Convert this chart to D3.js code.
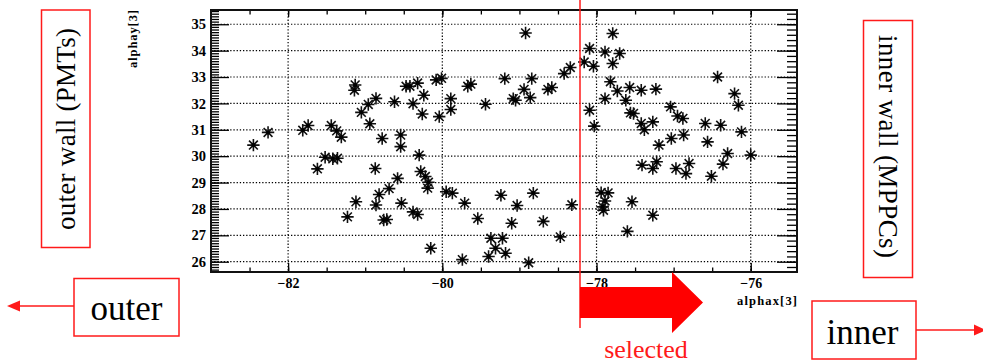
<!DOCTYPE html>
<html><head><meta charset="utf-8">
<script src="https://cdn.jsdelivr.net/npm/d3@7"></script>
<style>body{margin:0;background:#fff;} svg{display:block;}</style>
</head><body>
<svg id="c" width="983" height="363"></svg>
<script>
// alphax[3] values
const alphaX = [
 -82.45,-82.26,-81.81,-81.74,-81.44,-81.37,-81.31,-81.62,-81.52,-81.42,-81.36,-81.13,-81.14,-81.05,-81.12,-81.23,
 -80.96,-80.86,-80.94,-80.78,-80.54,-80.54,-80.62,-80.47,-80.42,-80.32,-80.24,-80.38,-80.26,-80.08,-80.01,-80.04,
 -79.89,-79.89,-79.67,-79.63,-79.44,-79.19,-80.30,-80.87,-80.58,-80.69,-80.82,-80.86,-80.72,-80.76,-80.53,-80.38,
 -80.32,-80.28,-80.22,-80.18,-80.19,-80.15,-79.95,-79.87,-79.71,-79.54,-79.24,-79.74,-79.37,-79.31,-79.40,-79.22,
 -78.92,-79.08,-79.05,-78.94,-78.84,-78.86,-78.63,-78.58,-78.42,-78.34,-78.16,-78.09,-78.04,-77.89,-77.79,-77.70,
 -77.79,-77.82,-77.89,-77.73,-77.57,-77.42,-77.62,-77.56,-77.52,-77.42,-77.38,-78.09,-78.03,-77.41,-79.03,-78.82,
 -78.32,-79.10,-78.69,-78.47,-79.18,-78.88,-77.94,-77.85,-77.89,-77.91,-77.92,-77.54,-77.60,
 -77.23,-77.04,-76.95,-76.88,-77.27,-77.19,-77.03,-76.87,-76.59,-76.39,-76.56,-76.43,-76.21,-76.16,-76.12,-76.30,
 -76.36,-76.00,-76.51,-76.80,-76.84,-76.97,-77.22,-77.27,-77.27
];
// alphay[3] values
const alphaY = [
 30.42,30.90,30.98,31.16,31.16,30.96,30.72,29.52,29.96,29.90,29.92,32.70,32.50,31.66,28.27,27.70,
 31.96,32.19,31.23,30.67,30.80,30.36,32.06,32.65,32.65,32.77,32.31,31.99,31.60,32.89,32.95,31.50,
 32.18,31.77,32.65,32.73,31.97,32.94,30.04,29.53,29.16,28.77,28.55,28.15,27.60,27.58,28.22,27.89,
 27.79,29.42,29.23,29.01,28.79,26.51,28.65,28.60,28.22,27.64,28.52,26.08,26.89,26.51,26.20,26.89,
 34.67,32.18,32.12,32.53,32.94,32.22,32.53,32.60,33.13,33.36,33.57,34.08,33.41,33.95,34.65,33.89,
 33.51,32.82,32.18,32.47,32.60,32.50,32.12,31.64,31.62,31.24,31.00,31.74,31.14,29.66,28.13,28.60,
 28.16,27.46,27.53,26.94,26.32,25.96,28.62,28.61,28.30,27.95,28.08,28.27,27.15,
 32.54,31.87,31.52,31.43,31.30,30.42,30.67,30.80,31.24,31.17,30.54,33.00,32.37,31.93,30.92,30.10,
 29.70,30.04,29.24,29.72,29.34,29.53,29.79,29.53,27.76
];
const xTicks = [-82, -80, -78, -76];
const yTicks = [26, 27, 28, 29, 30, 31, 32, 33, 34, 35];
const xMinor = d3.range(-165, -151).map(v => v / 2);
const yMinorLeft = d3.range(257, 356).map(v => v / 10);
const yMinorRight = d3.range(129, 178).map(v => v / 5);
const xTitle = "alphax[3]";
const yTitle = "alphay[3]";

const svg = d3.select("#c");
const L = 211, R = 797, T = 10, B = 272;
const x = d3.scaleLinear().domain([-83.0, -75.4]).range([L, R]);
const y = d3.scaleLinear().domain([25.61, 35.54]).range([B, T]);
const serif = "'Liberation Serif','DejaVu Serif',serif";
const red = "#ff1a1a";

// grid
const grid = svg.append("g").attr("stroke", "#000").attr("stroke-width", 1.2).attr("stroke-dasharray", "1.3,1.9");
grid.selectAll(".gx").data(xTicks).join("line")
  .attr("x1", d => x(d)).attr("x2", d => x(d)).attr("y1", T).attr("y2", B);
grid.selectAll(".gy").data(yTicks).join("line")
  .attr("y1", d => y(d)).attr("y2", d => y(d)).attr("x1", L).attr("x2", R);

function styleAxis(g) {
  g.select(".domain").remove();
  g.selectAll(".tick line").attr("stroke", "#000").attr("stroke-width", 1.3);
  g.selectAll("text").attr("font-family", serif).attr("font-weight", "bold").attr("fill", "#000");
}
// bottom
svg.append("g").attr("transform", `translate(0,${B})`)
  .call(d3.axisBottom(x).tickValues(xMinor).tickSize(-4.5).tickFormat("")).call(styleAxis);
svg.append("g").attr("transform", `translate(0,${B})`)
  .call(d3.axisBottom(x).tickValues(xTicks).tickSize(-9).tickPadding(6)).call(styleAxis)
  .selectAll("text").attr("font-size", 14);
// top
svg.append("g").attr("transform", `translate(0,${T})`)
  .call(d3.axisTop(x).tickValues(xMinor).tickSize(-4.5).tickFormat("")).call(styleAxis);
svg.append("g").attr("transform", `translate(0,${T})`)
  .call(d3.axisTop(x).tickValues(xTicks).tickSize(-7).tickFormat("")).call(styleAxis);
// left
svg.append("g").attr("transform", `translate(${L},0)`)
  .call(d3.axisLeft(y).tickValues(yMinorLeft).tickSize(-8).tickFormat("")).call(styleAxis);
svg.append("g").attr("transform", `translate(${L},0)`)
  .call(d3.axisLeft(y).tickValues(yTicks).tickSize(-18).tickPadding(5)).call(styleAxis)
  .selectAll("text").attr("font-size", 14.5);
// right
svg.append("g").attr("transform", `translate(${R},0)`)
  .call(d3.axisRight(y).tickValues(yMinorRight).tickSize(-10).tickFormat("")).call(styleAxis);
svg.append("g").attr("transform", `translate(${R},0)`)
  .call(d3.axisRight(y).tickValues(yTicks).tickSize(-20).tickFormat("")).call(styleAxis);

// frame
svg.append("rect").attr("x", L).attr("y", T).attr("width", R - L).attr("height", B - T)
  .attr("fill", "none").attr("stroke", "#111").attr("stroke-width", 2);

// axis titles
svg.append("text").attr("x", R).attr("y", 305).attr("text-anchor", "end")
  .attr("font-family", serif).attr("font-weight", "bold").attr("font-size", 12.5)
  .attr("textLength", 60).text(xTitle);
svg.append("text").attr("transform", "translate(137,39) rotate(-90)").attr("text-anchor", "middle")
  .attr("font-family", serif).attr("font-weight", "bold").attr("font-size", 12.5)
  .attr("textLength", 58).text(yTitle);

// markers (asterisks)
const pts = alphaX.map((v, i) => [v, alphaY[i]]);
const r = 6.2, k = 4.4;
const star = `M${-r},0L${r},0M0,${-r}L0,${r}M${-k},${-k}L${k},${k}M${-k},${k}L${k},${-k}`;
const mk = svg.append("g");
mk.selectAll("path").data(pts).join("path")
  .attr("transform", d => `translate(${x(d[0])},${y(d[1])})`)
  .attr("d", star).attr("stroke", "#111").attr("stroke-width", 1.6).attr("fill", "none");
mk.selectAll("circle").data(pts).join("circle")
  .attr("cx", d => x(d[0])).attr("cy", d => y(d[1])).attr("r", 2).attr("fill", "#000");

// annotations
const ann = svg.append("g");
// vertical cut line
ann.append("line").attr("x1", 580).attr("x2", 580).attr("y1", 0).attr("y2", 328)
  .attr("stroke", red).attr("stroke-width", 1.5);
// big arrow
ann.append("path").attr("d", "M580,287L672,287L672,272L703,302.5L672,333L672,318L580,318Z").attr("fill", "#ff0000");
ann.append("text").attr("x", 646).attr("y", 358).attr("text-anchor", "middle")
  .attr("font-family", serif).attr("font-size", 26).attr("fill", red).text("selected");

// boxes
function box(x0, y0, w, h) {
  ann.append("rect").attr("x", x0).attr("y", y0).attr("width", w).attr("height", h)
    .attr("fill", "#fff").attr("stroke", red).attr("stroke-width", 1.5);
}
box(41.5, 10, 48.5, 237.5);
ann.append("text").attr("transform", "translate(66,129) rotate(-90)").attr("text-anchor", "middle")
  .attr("dy", "0.35em").attr("font-family", serif).attr("font-size", 27).attr("textLength", 202)
  .attr("fill", "#000").text("outer wall (PMTs)");
box(863.5, 20.5, 49, 257);
ann.append("text").attr("transform", "translate(888,146.5) rotate(90)").attr("text-anchor", "middle")
  .attr("dy", "0.35em").attr("font-family", serif).attr("font-size", 27).attr("textLength", 223)
  .attr("fill", "#000").text("inner wall (MPPCs)");
box(74, 278.5, 105, 57.5);
ann.append("text").attr("x", 126.5).attr("y", 320).attr("text-anchor", "middle")
  .attr("font-family", serif).attr("font-size", 35).attr("fill", "#000").text("outer");
box(812, 301, 104, 58);
ann.append("text").attr("x", 862.5).attr("y", 344).attr("text-anchor", "middle")
  .attr("font-family", serif).attr("font-size", 35).attr("fill", "#000").text("inner");
// small arrows
ann.append("line").attr("x1", 74).attr("x2", 18).attr("y1", 306).attr("y2", 306).attr("stroke", red).attr("stroke-width", 1.5);
ann.append("path").attr("d", "M7,306L20,300.5L20,311.5Z").attr("fill", red);
ann.append("line").attr("x1", 916).attr("x2", 975).attr("y1", 330).attr("y2", 330).attr("stroke", red).attr("stroke-width", 1.5);
ann.append("path").attr("d", "M986,330L974,324.5L974,335.5Z").attr("fill", red);
</script>
</body></html>
